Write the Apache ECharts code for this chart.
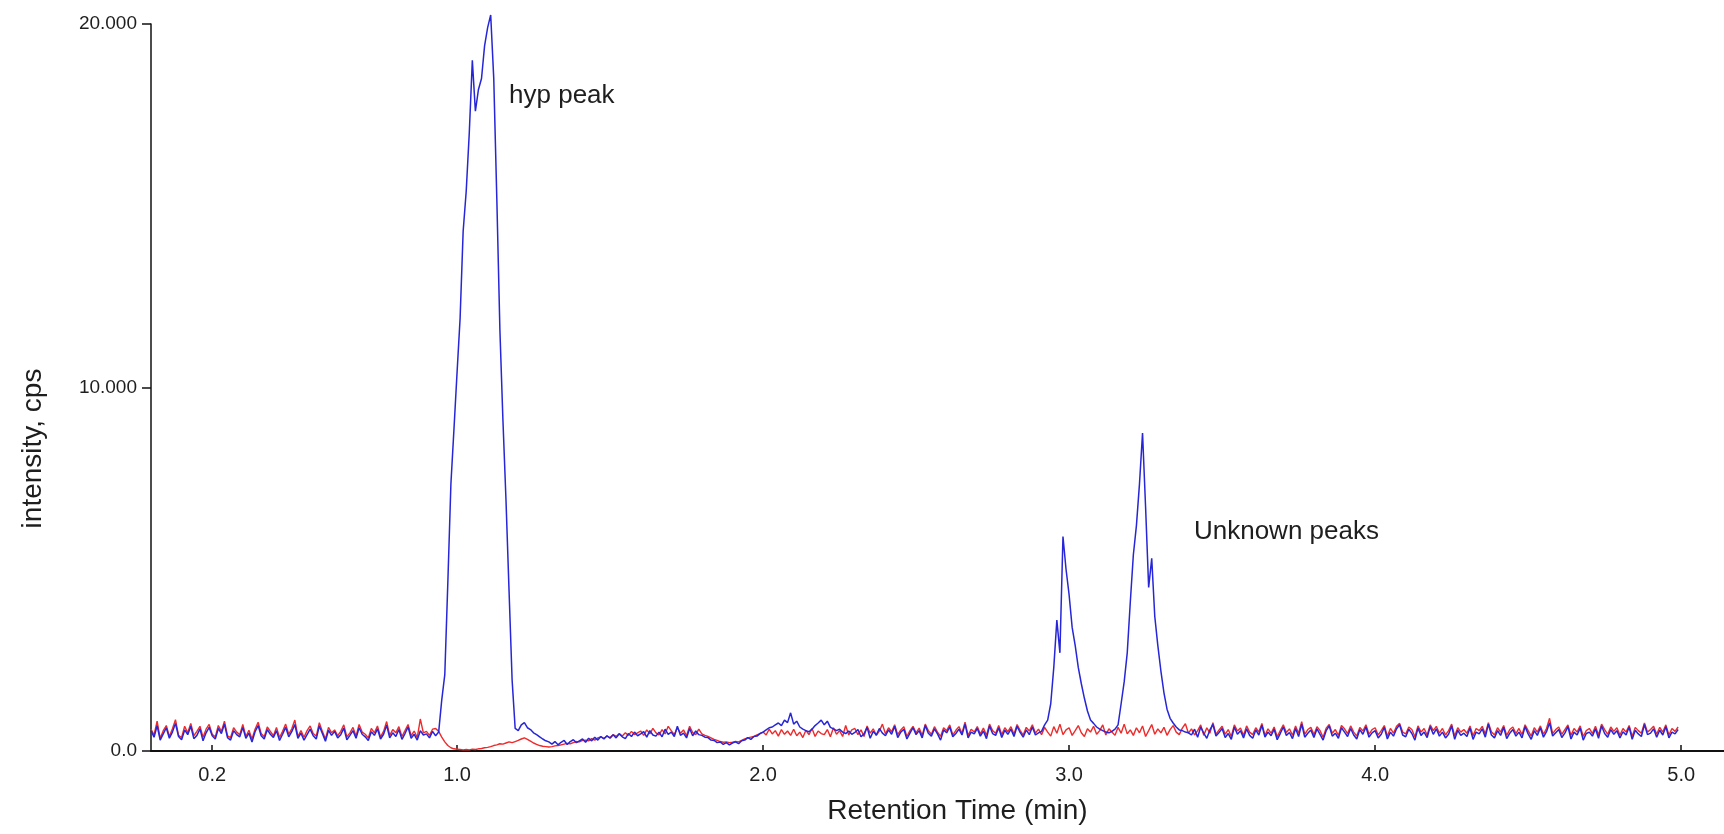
<!DOCTYPE html>
<html>
<head>
<meta charset="utf-8">
<script src="https://cdn.jsdelivr.net/npm/echarts@6/dist/echarts.min.js"></script>
<style>
html,body{margin:0;padding:0;background:#fff;}
#chart{width:1724px;height:834px;}
</style>
</head>
<body>
<div id="chart"></div>
<script>
// sampling grid of the chromatogram (minutes)
const TIME_START = 0.00;
const TIME_STEP = 0.01;

// Blue trace (cps), one value per 0.01 min, rows of 0.1 min
const blueIntensity = [
 560,380,700,300,470,640,350,520,760,400,
 310,580,450,680,340,430,610,280,500,650,
 420,330,620,480,740,370,300,560,450,390,
 650,350,490,250,530,700,420,330,590,460,
 370,560,290,460,650,390,530,730,350,490,
 300,450,600,420,330,690,480,270,570,430,
 540,360,450,630,310,430,560,350,640,460,
 390,290,530,430,610,330,460,710,360,500,
 400,590,320,480,660,350,460,300,560,440,
 470,360,540,420,520,1400,2100,4650,7350,8860,
 10400,11900,14300,15400,17000,19000,17600,18200,18500,19400,
 19900,20250,18500,15200,11600,9100,6900,4400,1950,620,
 560,720,780,640,590,500,450,390,330,280,
 250,190,260,170,240,290,180,260,310,230,
 280,330,240,350,280,380,300,400,330,420,
 350,450,360,470,390,340,480,400,520,420,
 470,530,380,560,440,410,520,390,600,460,
 520,400,680,430,490,360,620,420,550,450,
 430,380,370,300,290,230,250,180,230,170,
 220,250,200,280,300,370,320,400,410,480,
 520,580,640,660,720,770,700,850,780,1050,
 740,820,660,600,560,530,600,700,770,850,
 720,820,650,610,560,600,520,480,550,460,
 510,590,390,470,650,350,540,440,620,490,
 420,580,460,680,370,520,600,330,490,640,
 450,560,360,700,490,410,610,470,300,580,
 500,660,390,480,600,440,740,360,520,470,
 620,410,550,340,690,480,430,640,370,570,
 460,600,400,680,510,380,580,450,660,440,
 500,540,720,850,1300,2300,3600,2700,5900,5000,
 4300,3400,2900,2300,1850,1450,1100,850,760,660,
 600,560,520,500,540,600,720,1300,1900,2700,
 4100,5400,6200,7350,8750,6700,4500,5300,3700,2900,
 2200,1600,1150,900,770,660,580,560,520,500,
 440,600,380,660,490,350,580,730,410,510,
 620,370,480,320,660,460,560,360,610,430,
 350,580,440,710,380,520,420,600,310,480,
 660,430,510,340,620,400,740,380,490,580,
 370,610,460,300,560,690,410,490,350,640,
 520,400,620,440,330,590,460,660,380,500,
 560,360,460,650,330,520,410,610,720,440,
 390,600,480,300,630,430,520,370,670,460,
 610,410,520,360,460,690,320,570,430,490,
 400,630,320,520,470,610,380,740,440,360,
 560,430,650,340,490,590,410,520,360,670,
 470,320,560,430,640,380,530,780,410,500,
 590,370,490,670,330,520,440,630,300,480,
 520,410,610,350,690,480,380,590,460,560,
 360,530,440,660,320,570,470,400,730,450,
 490,610,380,570,440,670,360,520,470,590
];

// Red trace (cps), same sampling grid
const redIntensity = [
 600,440,820,350,560,700,400,610,860,430,
 370,680,500,760,420,540,680,380,600,730,
 460,390,700,540,820,420,370,640,520,450,
 730,400,570,330,600,790,480,390,660,540,
 420,650,370,540,740,460,610,850,400,560,
 380,560,690,480,410,780,540,330,650,500,
 580,420,540,720,390,500,650,410,730,520,
 460,360,620,500,690,390,540,810,430,590,
 500,670,400,560,730,420,550,370,880,500,
 540,430,600,620,540,380,250,150,90,60,
 50,40,30,40,30,50,40,60,70,90,
 100,120,150,170,200,190,220,250,230,260,
 290,330,360,320,270,220,180,150,130,120,
 110,120,140,150,170,190,210,200,230,260,
 250,290,300,280,340,300,360,390,350,410,
 370,450,400,480,410,500,430,540,450,500,
 550,430,580,470,620,500,440,590,470,680,
 560,450,640,490,580,420,680,510,450,600,
 470,430,400,360,320,290,260,240,250,230,
 240,260,250,290,330,360,380,400,440,480,
 520,440,600,470,560,410,590,460,550,430,
 600,420,520,370,570,450,620,400,550,480,
 450,590,390,640,460,560,400,700,440,580,
 620,450,580,400,690,490,610,430,550,740,
 470,640,530,720,450,580,670,400,560,680,
 500,630,430,740,560,460,670,520,400,640,
 560,720,440,570,670,490,790,430,600,520,
 670,470,630,430,740,560,490,700,450,640,
 530,670,460,730,570,440,650,550,720,490,
 600,450,650,520,410,670,490,740,450,580,
 640,430,560,700,500,400,610,520,680,460,
 560,720,440,610,520,430,650,490,740,470,
 580,430,640,500,690,400,560,730,460,610,
 500,650,430,590,700,520,450,630,750,490,
 610,440,560,720,430,640,490,780,460,580,
 680,460,590,400,720,550,630,430,690,520,
 450,640,520,760,430,610,490,660,390,560,
 720,510,610,430,690,490,810,460,590,650,
 450,670,560,380,630,730,490,590,430,700,
 610,480,690,520,410,650,550,720,460,590,
 640,440,560,700,410,620,490,680,760,520,
 470,660,590,390,690,520,620,440,720,560,
 680,490,620,440,560,740,410,640,520,590,
 490,690,420,620,560,680,470,780,530,440,
 640,520,700,430,590,660,480,620,450,720,
 560,410,640,520,690,460,620,900,480,590,
 660,460,590,720,430,620,520,690,400,560,
 620,480,680,440,740,590,460,660,540,640,
 440,620,520,700,400,650,560,490,770,520,
 590,680,460,650,520,720,440,620,540,660
];

// axis ticks
const xTickValues = [0.2, 1.0, 2.0, 3.0, 4.0, 5.0];
const yTickValues = [0, 10000, 20000];
const yTickLabels = ['0.0', '10.000', '20.000'];

// annotations: text, time (min), intensity (cps)
const annotationText = ['hyp peak', 'Unknown peaks'];
const annotationTime = [1.17, 3.408];
const annotationValue = [18020, 6025];

function toPoints(vals) {
  return vals.map((v, i) => [Math.round((TIME_START + i * TIME_STEP) * 100) / 100, v]);
}

const FONT = '"Liberation Sans", Arial, Helvetica, sans-serif';
const TEXT = '#1e1e1e';

const chart = echarts.init(document.getElementById('chart'), null, {renderer: 'canvas'});
chart.setOption({
  animation: false,
  backgroundColor: '#ffffff',
  grid: {left: 151, right: 0, top: 24, bottom: 83, containLabel: false},
  xAxis: {
    type: 'value', min: 0, max: 5.14,
    name: 'Retention Time (min)', nameLocation: 'middle', nameGap: 46,
    nameTextStyle: {fontFamily: FONT, fontSize: 28, color: TEXT, padding: [0, 0, 0, 40]},
    axisLine: {show: true, onZero: false, lineStyle: {color: '#111', width: 2}},
    axisTick: {show: true, inside: true, length: 6, customValues: xTickValues, lineStyle: {color: '#111', width: 1.5}},
    axisLabel: {show: true, customValues: xTickValues, margin: 14, fontFamily: FONT, fontSize: 20, color: TEXT,
      formatter: v => Number(v).toFixed(1)},
    splitLine: {show: false}
  },
  yAxis: {
    type: 'value', min: 0, max: 20000, interval: 10000,
    name: 'intensity, cps', nameLocation: 'middle', nameGap: 104,
    nameTextStyle: {fontFamily: FONT, fontSize: 28, color: TEXT, padding: [0, 122, 0, 0]},
    axisLine: {show: true, onZero: false, lineStyle: {color: '#111', width: 1.5}},
    axisTick: {show: true, inside: false, length: 9, lineStyle: {color: '#111', width: 1.5}},
    axisLabel: {show: true, margin: 14, fontFamily: FONT, fontSize: 19, color: TEXT,
      formatter: v => { const k = yTickValues.indexOf(v); return k >= 0 ? yTickLabels[k] : ''; }},
    splitLine: {show: false}
  },
  series: [
    {
      name: 'red', type: 'line', data: toPoints(redIntensity),
      showSymbol: false, symbol: 'none', clip: false,
      lineStyle: {color: '#ee2a2a', width: 1.4}, z: 2
    },
    {
      name: 'blue', type: 'line', data: toPoints(blueIntensity),
      showSymbol: false, symbol: 'none', clip: false,
      lineStyle: {color: '#2626d8', width: 1.5}, z: 3,
      markPoint: {
        symbol: 'circle', symbolSize: 0, silent: true,
        label: {show: true, position: 'right', distance: 0, fontFamily: FONT, fontSize: 26, color: TEXT,
          formatter: p => p.name},
        data: annotationText.map((s, i) => ({name: s, coord: [annotationTime[i], annotationValue[i]]}))
      }
    }
  ]
});
</script>
</body>
</html>
